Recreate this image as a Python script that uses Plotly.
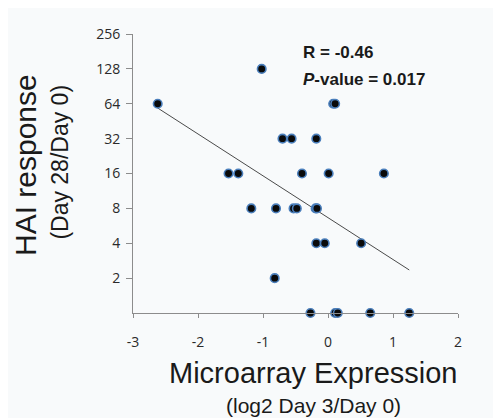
import numpy as np
import plotly.graph_objects as go

# log2 Day3/Day0 microarray expression
expr = [-2.62, 0.08, 0.11, -1.02, -0.70, -0.56, -0.18, -1.53, -1.38, -0.40,
        0.01, 0.86, -1.18, -0.80, -0.53, -0.48, -0.19, -0.17, -0.18, -0.05,
        0.51, -0.82, -0.27, 0.11, 0.15, 0.65, 1.25]
# HAI response (Day 28 / Day 0)
hai = [64, 64, 64, 128, 32, 32, 32, 16, 16, 16,
       16, 16, 8, 8, 8, 8, 8, 8, 4, 4,
       4, 2, 1, 1, 1, 1, 1]

y_ticks = [2, 4, 8, 16, 32, 64, 128, 256]
x_ticks = [-3, -2, -1, 0, 1, 2]
r_label = "R = -0.46"
p_label = "<i>P</i>-value = 0.017"

slope, intercept = np.polyfit(expr, np.log2(hai), 1)
fit_x = np.array([min(expr), max(expr)])
fit_y = 2 ** (intercept + slope * fit_x)

fig = go.Figure()
fig.add_trace(go.Scatter(x=fit_x, y=fit_y, mode="lines",
                         line=dict(color="#4a4a4a", width=1),
                         showlegend=False, hoverinfo="skip"))
fig.add_trace(go.Scatter(x=expr, y=hai, mode="markers",
                         marker=dict(size=8.5, color="#0a0a0a",
                                     line=dict(color="#4a7ebb", width=1.6)),
                         cliponaxis=False, showlegend=False))

bg = "#f8fafb"
tickfont = dict(family="Open Sans, Liberation Sans, sans-serif", size=14, color="#2a2a2a")
fig.update_layout(
    width=493, height=410,
    margin=dict(l=125, r=43, t=26, b=105),
    paper_bgcolor=bg, plot_bgcolor=bg,
    xaxis=dict(range=[-3, 2], tickvals=x_ticks, ticktext=[str(v) for v in x_ticks],
               ticks="outside", ticklen=4, tickcolor="#8c8c8c", ticklabelstandoff=12,
               showline=True, linecolor="#8c8c8c", linewidth=1,
               showgrid=False, zeroline=False, tickfont=tickfont),
    yaxis=dict(type="log", range=[0, np.log10(256)], tickvals=y_ticks,
               ticktext=[str(v) for v in y_ticks],
               ticks="outside", ticklen=6, tickcolor="#8c8c8c", ticklabelstandoff=3,
               showline=True, linecolor="#8c8c8c", linewidth=1,
               showgrid=False, zeroline=False, tickfont=tickfont),
)

title_font = "Liberation Sans, Arial, sans-serif"
fig.add_annotation(text="Microarray Expression", xref="paper", yref="paper",
                   x=0.555, y=-0.215, xanchor="center", yanchor="middle",
                   showarrow=False, font=dict(family=title_font, size=29, color="#1a1a1a"))
fig.add_annotation(text="(log2 Day 3/Day 0)", xref="paper", yref="paper",
                   x=0.555, y=-0.33, xanchor="center", yanchor="middle",
                   showarrow=False, font=dict(family=title_font, size=21, color="#1a1a1a"))
fig.add_annotation(text="HAI response", xref="paper", yref="paper",
                   x=-0.330, y=0.5295, xanchor="center", yanchor="middle", textangle=-90,
                   showarrow=False, font=dict(family=title_font, size=30, color="#1a1a1a"))
fig.add_annotation(text="(Day 28/Day 0)", xref="paper", yref="paper",
                   x=-0.2246, y=0.539, xanchor="center", yanchor="middle", textangle=-90,
                   showarrow=False, font=dict(family=title_font, size=23, color="#1a1a1a"))
fig.add_annotation(text="<b>" + r_label + "</b>", xref="paper", yref="paper",
                   x=0.517, y=0.934, xanchor="left", yanchor="middle",
                   showarrow=False, font=dict(family=title_font, size=17, color="#1a1a1a"))
fig.add_annotation(text="<b>" + p_label + "</b>", xref="paper", yref="paper",
                   x=0.517, y=0.837, xanchor="left", yanchor="middle",
                   showarrow=False, font=dict(family=title_font, size=17, color="#1a1a1a"))

fig.write_html("out.html")
